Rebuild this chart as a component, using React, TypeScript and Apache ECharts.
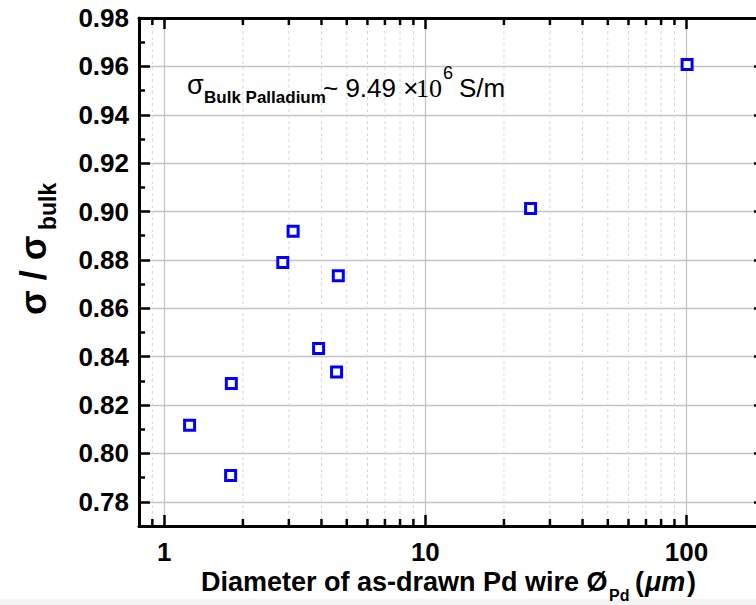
import React, { useEffect, useRef } from 'react';
import * as echarts from 'echarts';

// Diameter of as-drawn Pd wire (µm)
const diameters = [1.25, 1.795, 1.806, 2.844, 3.115, 3.9, 4.64, 4.57, 25.3, 100.6];
// sigma / sigma_bulk
const ratios = [0.8117, 0.7909, 0.8289, 0.8789, 0.8918, 0.8434, 0.8734, 0.8337, 0.9012, 0.9608];
// minor log ticks on the x axis
const xMinorTicks = [0.9, 2, 3, 4, 5, 6, 7, 8, 9, 20, 30, 40, 50, 60, 70, 80, 90];

const X_MIN = 0.8;
const X_MAX = 200;
const Y_MIN = 0.77;
const Y_MAX = 0.98;

const FONT = "'Liberation Sans', Arial, Helvetica, sans-serif";

export default function App() {
  const ref = useRef<HTMLDivElement>(null);
  useEffect(() => {
    const chart = echarts.init(ref.current as HTMLDivElement, null, { renderer: 'svg' });
    const axisLine = { show: true, onZero: false, lineStyle: { color: '#000', width: 3 } };
    const majorTick = { show: true, inside: true, length: 11, lineStyle: { color: '#000', width: 2.5 } };
    const minorTick = { show: true, splitNumber: 2, length: 6, lineStyle: { color: '#000', width: 2.5 } };
    const labelStyle = { color: '#000', fontFamily: FONT, fontWeight: 'bold', fontSize: 26 };

    const txt = (text: string, x: number, y: number, size: number, weight: string, family = FONT, extra: any = {}) => ({
      type: 'text',
      x,
      y,
      z: 100,
      ...extra,
      style: {
        text,
        fill: '#000',
        font: `${weight} ${size}px ${family}`,
        align: 'left',
        verticalAlign: 'middle',
        textAlign: 'left',
        textVerticalAlign: 'middle',
      },
    });

    chart.setOption({
      animation: false,
      backgroundColor: '#fff',
      grid: { left: 139, top: 18, width: 626, height: 508, containLabel: false, outerBoundsMode: 'none' },
      xAxis: [
        {
          type: 'log',
          logBase: 10,
          position: 'bottom',
          min: X_MIN,
          max: X_MAX,
          axisLine,
          axisTick: majorTick,
          axisLabel: { ...labelStyle, margin: 13, showMinLabel: false, showMaxLabel: false },
          splitLine: { show: true, lineStyle: { color: '#c4c4c4', width: 1.3 } },
          minorTick: { show: false },
        },
        {
          type: 'log',
          logBase: 10,
          position: 'top',
          min: X_MIN,
          max: X_MAX,
          axisLine,
          axisTick: majorTick,
          axisLabel: { show: false },
          splitLine: { show: false },
        },
      ],
      yAxis: [
        {
          type: 'value',
          position: 'left',
          min: Y_MIN,
          max: Y_MAX,
          splitNumber: 10,
          axisLine,
          axisTick: majorTick,
          minorTick,
          axisLabel: {
            ...labelStyle,
            margin: 10,
            showMinLabel: false,
            formatter: (v: number) => v.toFixed(2),
          },
          splitLine: { show: true, lineStyle: { color: '#c4c4c4', width: 1.3 } },
        },
        {
          type: 'value',
          position: 'right',
          min: Y_MIN,
          max: Y_MAX,
          splitNumber: 10,
          axisLine,
          axisTick: majorTick,
          minorTick,
          axisLabel: { show: false },
          splitLine: { show: false },
        },
      ],
      series: [
        {
          type: 'custom',
          xAxisIndex: 0,
          yAxisIndex: 0,
          z: 1,
          silent: true,
          clip: false,
          data: xMinorTicks.map((v) => [v, Y_MIN]),
          renderItem: (_params: any, api: any) => {
            const v = api.value(0);
            const b = api.coord([v, Y_MIN]);
            const t = api.coord([v, Y_MAX]);
            return {
              type: 'group',
              children: [
                {
                  type: 'line',
                  shape: { x1: b[0], y1: b[1], x2: t[0], y2: t[1] },
                  style: { stroke: '#d6d6d6', lineWidth: 1, lineDash: [3, 3] },
                },
                {
                  type: 'line',
                  shape: { x1: b[0], y1: b[1], x2: b[0], y2: b[1] - 7 },
                  style: { stroke: '#000', lineWidth: 2.5 },
                },
                {
                  type: 'line',
                  shape: { x1: t[0], y1: t[1], x2: t[0], y2: t[1] + 7 },
                  style: { stroke: '#000', lineWidth: 2.5 },
                },
              ],
            };
          },
        },
        {
          type: 'scatter',
          xAxisIndex: 0,
          yAxisIndex: 0,
          z: 5,
          symbol: 'rect',
          symbolSize: 10,
          itemStyle: { color: '#ffffff', borderColor: '#0000ff', borderWidth: 3, opacity: 1 },
          data: diameters.map((d, i) => [d, ratios[i]]),
        },
      ],
      graphic: {
        elements: [
          { type: 'rect', shape: { x: 0, y: 599, width: 756, height: 6 }, style: { fill: '#f3f3f3' }, z: 0 },
          // annotation
          txt('σ', 187, 85, 27, 'normal'),
          txt('Bulk Palladium', 204, 97, 17, 'bold'),
          txt('~ 9.49 ×', 323, 88, 26, 'normal'),
          txt('10', 416, 88, 26, 'normal', "'Liberation Serif', 'Times New Roman', serif"),
          txt('6', 443, 73, 18, 'normal'),
          txt('S/m', 459, 88, 26, 'normal'),
          // y axis title (rotated)
          txt('σ / σ', 33, 315, 36, 'bold', FONT, { rotation: Math.PI / 2 }),
          txt('bulk', 48, 230, 23, 'bold', FONT, { rotation: Math.PI / 2 }),
          // x axis title
          txt('Diameter of as-drawn Pd wire Ø', 201, 582, 27, 'bold'),
          txt('Pd', 609, 595, 16, 'bold'),
          txt('(', 635, 582, 27, 'bold'),
          txt('μm', 645, 582, 27, 'italic bold'),
          txt(')', 687, 582, 27, 'bold'),
        ],
      },
    });
    return () => chart.dispose();
  }, []);
  return (
    <div
      ref={ref}
      style={{ position: 'absolute', left: 0, top: 0, width: 756, height: 605, background: '#fff' }}
    />
  );
}
